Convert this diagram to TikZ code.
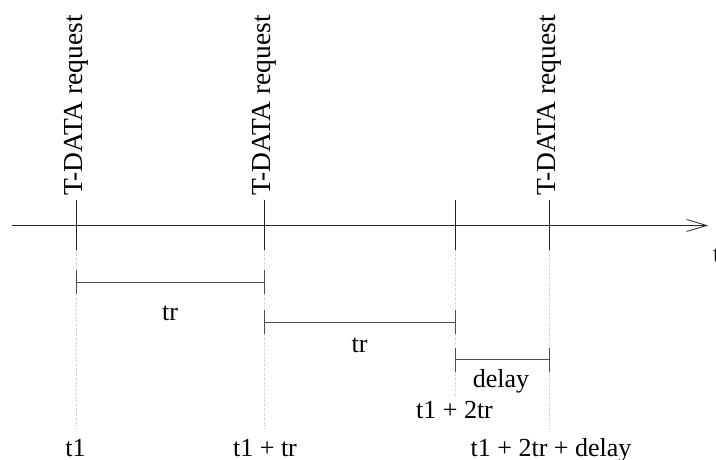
\documentclass[tikz,border=0pt]{standalone}
\usepackage{fontspec}
\setmainfont{Liberation Serif}
\usetikzlibrary{arrows.meta}

\begin{document}
\begin{tikzpicture}[x=1pt,y=-1pt,
  lbl/.style={font=\fontsize{26}{30}\selectfont, inner sep=0pt, anchor=base},
  reqlbl/.style={font=\fontsize{27.5}{32}\selectfont, inner sep=0pt, rotate=90, anchor=west},
  axisline/.style={line width=0.8pt, draw=black!85},
  tick/.style={line width=0.9pt, draw=black!85},
  span/.style={line width=0.9pt, draw=black!70},
  guide/.style={line width=0.5pt, draw=black!25, dotted}
]
\useasboundingbox (0,0) rectangle (716,460);

% time axis
\coordinate (ax0) at (12,225.5);
\coordinate (ax1) at (708,225.5);
\draw[axisline, -{Straight Barb[length=20pt,width=12pt,line width=0.8pt]}] (ax0) -- (ax1);
\node[lbl, anchor=base west] (tlab) at (713,262) {t};

% event ticks
\foreach \n/\x in {a/76, b/264, c/455, d/549} {
  \coordinate (top-\n) at (\x,200);
  \coordinate (bot-\n) at (\x,250);
  \draw[tick] (top-\n) -- (bot-\n);
}

% request labels
\node[reqlbl] (ra) at (76,196) {T-DATA request};
\node[reqlbl] (rb) at (264,196) {T-DATA request};
\node[reqlbl] (rd) at (549,196) {T-DATA request};

% dotted guides
\coordinate (ag) at (76,428);
\coordinate (bg) at (264,428);
\coordinate (cg) at (455,397);
\coordinate (dg) at (549,428);
\draw[guide] (bot-a) -- (ag);
\draw[guide] (bot-b) -- (bg);
\draw[guide] (bot-c) -- (cg);
\draw[guide] (bot-d) -- (dg);

% interval spans
\foreach \n/\xa/\xb/\y in {s1/76/264/282, s2/264/455/322, s3/455/549/359.5} {
  \coordinate (l-\n) at (\xa,\y);
  \coordinate (r-\n) at (\xb,\y);
  \draw[span] (l-\n) -- (r-\n);
  \draw[span] ([yshift=-12pt]l-\n) -- ([yshift=12pt]l-\n);
  \draw[span] ([yshift=-12pt]r-\n) -- ([yshift=12pt]r-\n);
}

% interval labels
\node[lbl] (tr1) at (170,320) {tr};
\node[lbl] (tr2) at (359.5,352) {tr};
\node[lbl] (dl) at (501,387) {delay};
\node[lbl] (t2) at (454.5,418) {t1 + 2tr};

% time stamps
\node[lbl] (ta) at (75.5,456) {t1};
\node[lbl] (tb) at (265,456) {t1 + tr};
\node[lbl] (td) at (551,456) {t1 + 2tr + delay};
\end{tikzpicture}
\end{document}
